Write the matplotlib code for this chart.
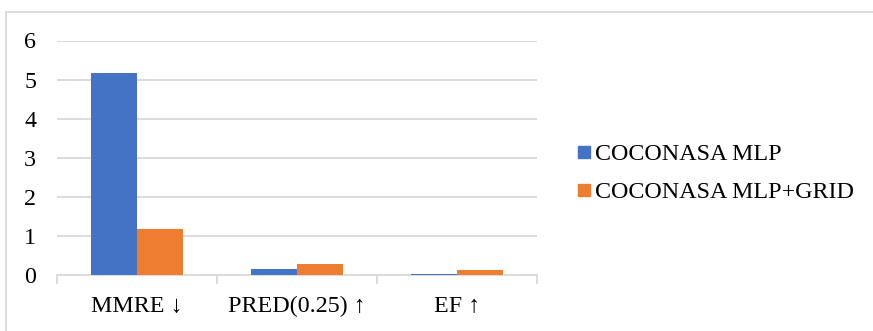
import matplotlib
matplotlib.use("Agg")
import matplotlib.pyplot as plt
from matplotlib.lines import Line2D
import numpy as np

plt.rcParams['font.family'] = ['Liberation Serif', 'DejaVu Serif']

categories = ["MMRE \u2193", "PRED(0.25) \u2191", "EF \u2191"]
series_names = ["COCONASA MLP", "COCONASA MLP+GRID"]
mlp_values = [5.17, 0.15, 0.02]
grid_values = [1.17, 0.27, 0.11]
colors = ["#4472C4", "#ED7D31"]
y_ticks = [0, 1, 2, 3, 4, 5, 6]

W, H = 873, 331
fig = plt.figure(figsize=(W / 100, H / 100), dpi=100)
ax = fig.add_axes([57 / W, 56.3 / H, (537 - 57) / W, (290.5 - 56.3) / H])

x = np.arange(len(categories))
bw = 0.285
ax.bar(x - bw / 2, mlp_values, width=bw, color=colors[0], zorder=3)
ax.bar(x + bw / 2, grid_values, width=bw, color=colors[1], zorder=3)

ax.set_xlim(-0.5, len(categories) - 0.5)
ax.set_ylim(0, 6)
ax.set_yticks(y_ticks)
ax.yaxis.grid(True, color="#d9d9d9", linewidth=1.3, zorder=0)
ax.set_axisbelow(True)
for s in ["top", "right", "left"]:
    ax.spines[s].set_visible(False)
ax.spines["bottom"].set_color("#d9d9d9")
ax.spines["bottom"].set_linewidth(1.3)

fs = 17.3
ax.tick_params(axis="y", length=0, pad=15, labelsize=fs)
ax.set_xticks(x)
ax.set_xticklabels(categories)
ax.tick_params(axis="x", which="major", length=0, pad=15.5, labelsize=fs)
ax.set_xticks(np.arange(-0.5, len(categories)), minor=True)
ax.tick_params(axis="x", which="minor", length=6.5, width=1.3, color="#d9d9d9",
               direction="out")

handles = [Line2D([], [], linestyle="none", marker="s", markersize=8.6,
                  markerfacecolor=c, markeredgecolor=c) for c in colors]
fig.legend(handles, series_names, loc="center left",
           bbox_to_anchor=(577.7 / W, 1 - 173.5 / H), frameon=False,
           fontsize=fs, handlelength=0.52, handletextpad=0.2,
           borderpad=0, borderaxespad=0, labelspacing=0.68)

# outer chart frame (top and left edges)
frame_col = "#d9d9d9"
fig.add_artist(Line2D([6 / W, 6 / W], [0, 1 - 12 / H], transform=fig.transFigure,
                      color=frame_col, linewidth=1.3))
fig.add_artist(Line2D([6 / W, 1], [1 - 12 / H, 1 - 12 / H], transform=fig.transFigure,
                      color=frame_col, linewidth=1.3))

fig.savefig("out.png", dpi=100)
